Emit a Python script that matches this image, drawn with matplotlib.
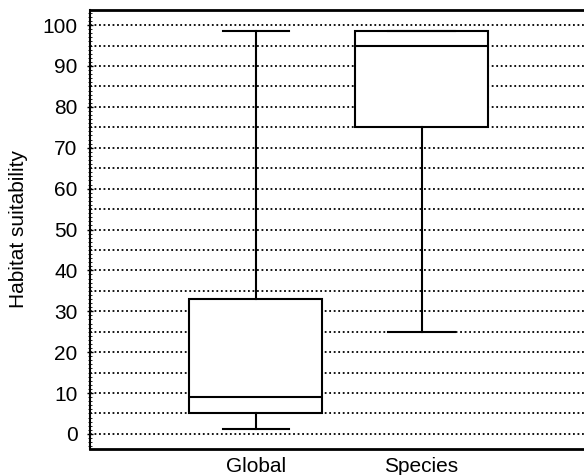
import matplotlib
matplotlib.use("Agg")
import matplotlib.pyplot as plt
from matplotlib.ticker import MultipleLocator

plt.rcParams["font.family"] = ["Liberation Sans", "DejaVu Sans"]

# box statistics
groups = ["Global", "Species"]
whisker_low = [1.2, 25.0]
q1 = [5.0, 75.0]
median = [9.0, 95.0]
q3 = [33.1, 98.6]
whisker_high = [98.6, 98.6]

stats = []
for name, lo, a, m, b, hi in zip(groups, whisker_low, q1, median, q3, whisker_high):
    stats.append({"label": name, "whislo": lo, "q1": a, "med": m,
                  "q3": b, "whishi": hi, "fliers": []})

fig = plt.figure(figsize=(5.84, 4.75), dpi=100)
ax = fig.add_axes([90 / 584, 26 / 475, 494 / 584, 439 / 475])

line = {"color": "black", "linewidth": 1.5}
ax.bxp(stats, positions=[1, 2], widths=0.8, patch_artist=True,
       boxprops={"facecolor": "white", "edgecolor": "black", "linewidth": 1.5},
       medianprops=line, whiskerprops=line, capprops=line,
       capwidths=0.4, showfliers=False, zorder=3)

ax.set_xlim(0, 2.98)
ax.set_ylim(-3.7, 103.7)
ax.set_yticks(range(0, 101, 10))
ax.yaxis.set_minor_locator(MultipleLocator(1))
for y in range(0, 101, 5):
    ax.axhline(y, color="black", linestyle=(0, (1, 1.5)), linewidth=1.3, zorder=1)

ax.set_ylabel("Habitat suitability", fontsize=15, labelpad=10)
ax.tick_params(axis="y", which="major", labelsize=15, length=4, width=1,
               direction="inout", pad=7)
ax.tick_params(axis="y", which="minor", length=2.5, width=0.6, direction="inout")
ax.tick_params(axis="x", length=0, labelsize=15, pad=6)

ax.spines["right"].set_visible(False)
ax.spines["top"].set_linewidth(2)
ax.spines["bottom"].set_linewidth(2)
ax.spines["left"].set_linewidth(1.5)

fig.savefig("out.png", dpi=100)
